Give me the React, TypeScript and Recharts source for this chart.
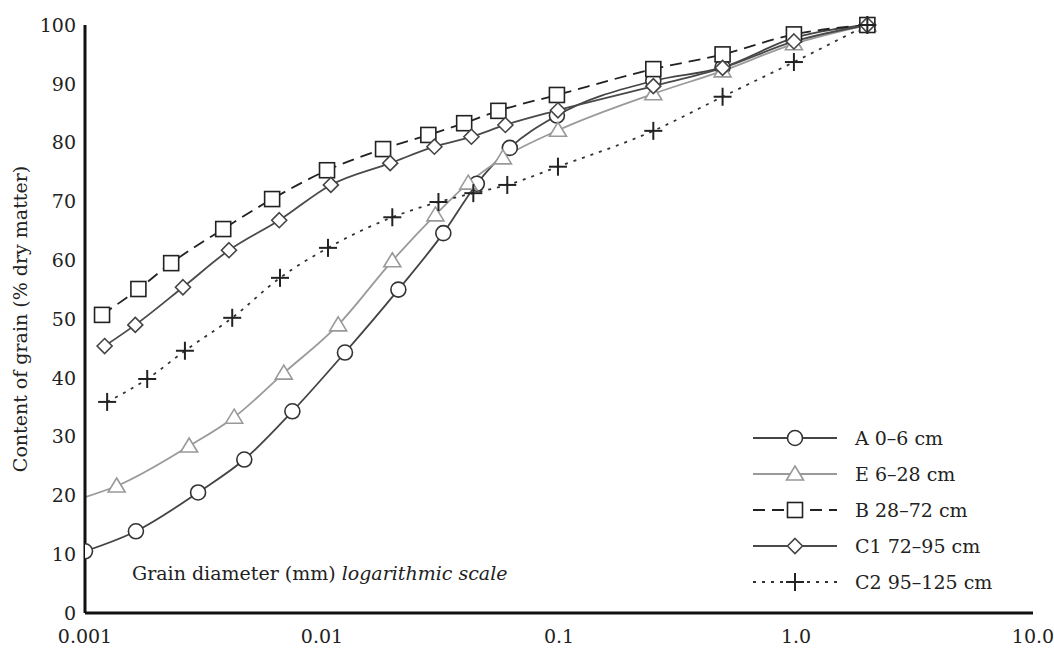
import React from "react";
import { LineChart, Line, XAxis, YAxis } from "recharts";

// grain diameter (mm) and cumulative content (% dry matter)
const xA = [0.001, 0.00164, 0.003, 0.0047, 0.0075, 0.0125, 0.021, 0.0325, 0.045, 0.062, 0.098, 0.25, 0.49, 0.98, 2.0];
const yA = [10.5, 13.9, 20.5, 26.1, 34.3, 44.3, 55.0, 64.6, 73.0, 79.1, 84.6, 90.5, 92.8, 97.8, 100];

const xE = [0.001, 0.00136, 0.00275, 0.00426, 0.0069, 0.0117, 0.0198, 0.0301, 0.0414, 0.058, 0.099, 0.25, 0.49, 0.98, 2.0];
const yE = [19.7, 21.6, 28.4, 33.3, 40.8, 49.0, 59.9, 67.7, 73.1, 77.4, 82.1, 88.3, 92.2, 96.8, 100];

const xB = [0.00118, 0.00168, 0.00231, 0.00383, 0.00616, 0.0105, 0.0181, 0.0281, 0.0398, 0.0555, 0.098, 0.25, 0.49, 0.98, 2.0];
const yB = [50.7, 55.1, 59.5, 65.3, 70.4, 75.3, 78.9, 81.3, 83.3, 85.4, 88.1, 92.5, 95.0, 98.4, 100];

const xC1 = [0.00121, 0.00163, 0.00259, 0.00405, 0.0066, 0.0109, 0.0194, 0.0298, 0.0427, 0.0594, 0.099, 0.25, 0.49, 0.98, 2.0];
const yC1 = [45.4, 49.0, 55.4, 61.7, 66.8, 72.8, 76.5, 79.3, 81.0, 83.0, 85.5, 89.6, 92.7, 97.2, 100];

const xC2 = [0.00124, 0.00183, 0.00264, 0.00418, 0.00665, 0.0106, 0.0198, 0.031, 0.0435, 0.0605, 0.099, 0.25, 0.49, 0.98, 2.0];
const yC2 = [35.9, 39.8, 44.6, 50.2, 57.0, 62.1, 67.3, 69.9, 71.4, 72.8, 75.9, 82.0, 87.8, 93.7, 100];

const xTicks = [0.001, 0.01, 0.1, 1, 10];
const xTickLabels = ["0.001", "0.01", "0.1", "1.0", "10.0"];
const yTicks = [0, 10, 20, 30, 40, 50, 60, 70, 80, 90, 100];

const FONT = "'DejaVu Serif', 'Liberation Serif', serif";
const FS = 19;

type Shape = "circle" | "triangle" | "square" | "diamond" | "plus";

const toPoints = (xs: number[], ys: number[]) => xs.map((x, i) => ({ x, y: ys[i] }));

const series = [
  { key: "A", name: "A 0\u20136 cm", data: toPoints(xA, yA), stroke: "#444", markerStroke: "#333", dash: undefined, shape: "circle" as Shape, skipFirst: false },
  { key: "E", name: "E 6\u201328 cm", data: toPoints(xE, yE), stroke: "#9a9a9a", markerStroke: "#999", dash: undefined, shape: "triangle" as Shape, skipFirst: true },
  { key: "B", name: "B 28\u201372 cm", data: toPoints(xB, yB), stroke: "#222", markerStroke: "#222", dash: "12 7", shape: "square" as Shape, skipFirst: false },
  { key: "C1", name: "C1 72\u201395 cm", data: toPoints(xC1, yC1), stroke: "#4a4a4a", markerStroke: "#444", dash: undefined, shape: "diamond" as Shape, skipFirst: false },
  { key: "C2", name: "C2 95\u2013125 cm", data: toPoints(xC2, yC2), stroke: "#333", markerStroke: "#222", dash: "3 6", shape: "plus" as Shape, skipFirst: false },
];

function Marker({ cx, cy, shape, stroke }: { cx: number; cy: number; shape: Shape; stroke: string }) {
  const sw = 1.6;
  if (shape === "circle") return <circle cx={cx} cy={cy} r={7.5} fill="#fff" stroke={stroke} strokeWidth={sw} />;
  if (shape === "triangle")
    return (
      <polygon
        points={`${cx},${cy - 8} ${cx + 8.5},${cy + 6} ${cx - 8.5},${cy + 6}`}
        fill="#fff"
        stroke={stroke}
        strokeWidth={sw}
      />
    );
  if (shape === "square") return <rect x={cx - 7.5} y={cy - 7.5} width={15} height={15} fill="#fff" stroke={stroke} strokeWidth={sw} />;
  if (shape === "diamond")
    return (
      <polygon
        points={`${cx},${cy - 7.5} ${cx + 7.5},${cy} ${cx},${cy + 7.5} ${cx - 7.5},${cy}`}
        fill="#fff"
        stroke={stroke}
        strokeWidth={sw}
      />
    );
  return (
    <g stroke={stroke} strokeWidth={2}>
      <line x1={cx - 9} y1={cy} x2={cx + 9} y2={cy} />
      <line x1={cx} y1={cy - 9} x2={cx} y2={cy + 9} />
    </g>
  );
}

function LegendBox() {
  return (
    <svg width={300} height={190} style={{ position: "absolute", left: 745, top: 420, fontFamily: FONT }}>
      {series.map((s, i) => {
        const y = 18 + i * 36;
        return (
          <g key={s.key}>
            <line x1={8} y1={y} x2={92} y2={y} stroke={s.stroke} strokeWidth={1.8} strokeDasharray={s.dash} />
            <Marker cx={50} cy={y} shape={s.shape} stroke={s.markerStroke} />
            <text x={110} y={y + 7} fontSize={FS} fill="#222">
              {s.name}
            </text>
          </g>
        );
      })}
    </svg>
  );
}

export default function App() {
  return (
    <div style={{ position: "absolute", left: 0, top: 0, width: 1054, height: 651, background: "#fff" }}>
      <LineChart width={1054} height={651} margin={{ top: 25, right: 21, left: 0, bottom: 0 }}>
        <XAxis
          type="number"
          dataKey="x"
          scale="log"
          domain={[0.001, 10]}
          ticks={xTicks}
          allowDataOverflow
          height={38}
          axisLine={{ stroke: "#111", strokeWidth: 3 }}
          tickLine={false}
          tickSize={0}
          tickMargin={17}
          tickFormatter={(v: number) => xTickLabels[xTicks.indexOf(v)] ?? String(v)}
          tick={{ fill: "#222", fontSize: FS, fontFamily: FONT }}
        />
        <YAxis
          type="number"
          dataKey="y"
          domain={[0, 100]}
          ticks={yTicks}
          width={85}
          axisLine={{ stroke: "#111", strokeWidth: 3 }}
          tickLine={false}
          tickSize={0}
          tickMargin={9}
          tick={{ fill: "#222", fontSize: FS, fontFamily: FONT }}
          label={{
            value: "Content of grain (% dry matter)",
            angle: -90,
            position: "insideLeft",
            offset: 20,
            style: { textAnchor: "middle", fill: "#222", fontSize: FS, fontFamily: FONT },
          }}
        />
        {series.map((s) => (
          <Line
            key={s.key}
            data={s.data}
            dataKey="y"
            name={s.name}
            type="monotone"
            stroke={s.stroke}
            strokeWidth={1.8}
            strokeDasharray={s.dash}
            isAnimationActive={false}
            activeDot={false}
            dot={(p: any) =>
              s.skipFirst && p.index === 0 ? (
                <g key={`${s.key}-${p.index}`} />
              ) : (
                <Marker key={`${s.key}-${p.index}`} cx={p.cx} cy={p.cy} shape={s.shape} stroke={s.markerStroke} />
              )
            }
          />
        ))}
      </LineChart>
      <LegendBox />
      <div
        style={{
          position: "absolute",
          left: 132,
          top: 562,
          fontFamily: FONT,
          fontSize: FS,
          color: "#222",
          whiteSpace: "nowrap",
        }}
      >
        Grain diameter (mm) <i>logarithmic scale</i>
      </div>
    </div>
  );
}
